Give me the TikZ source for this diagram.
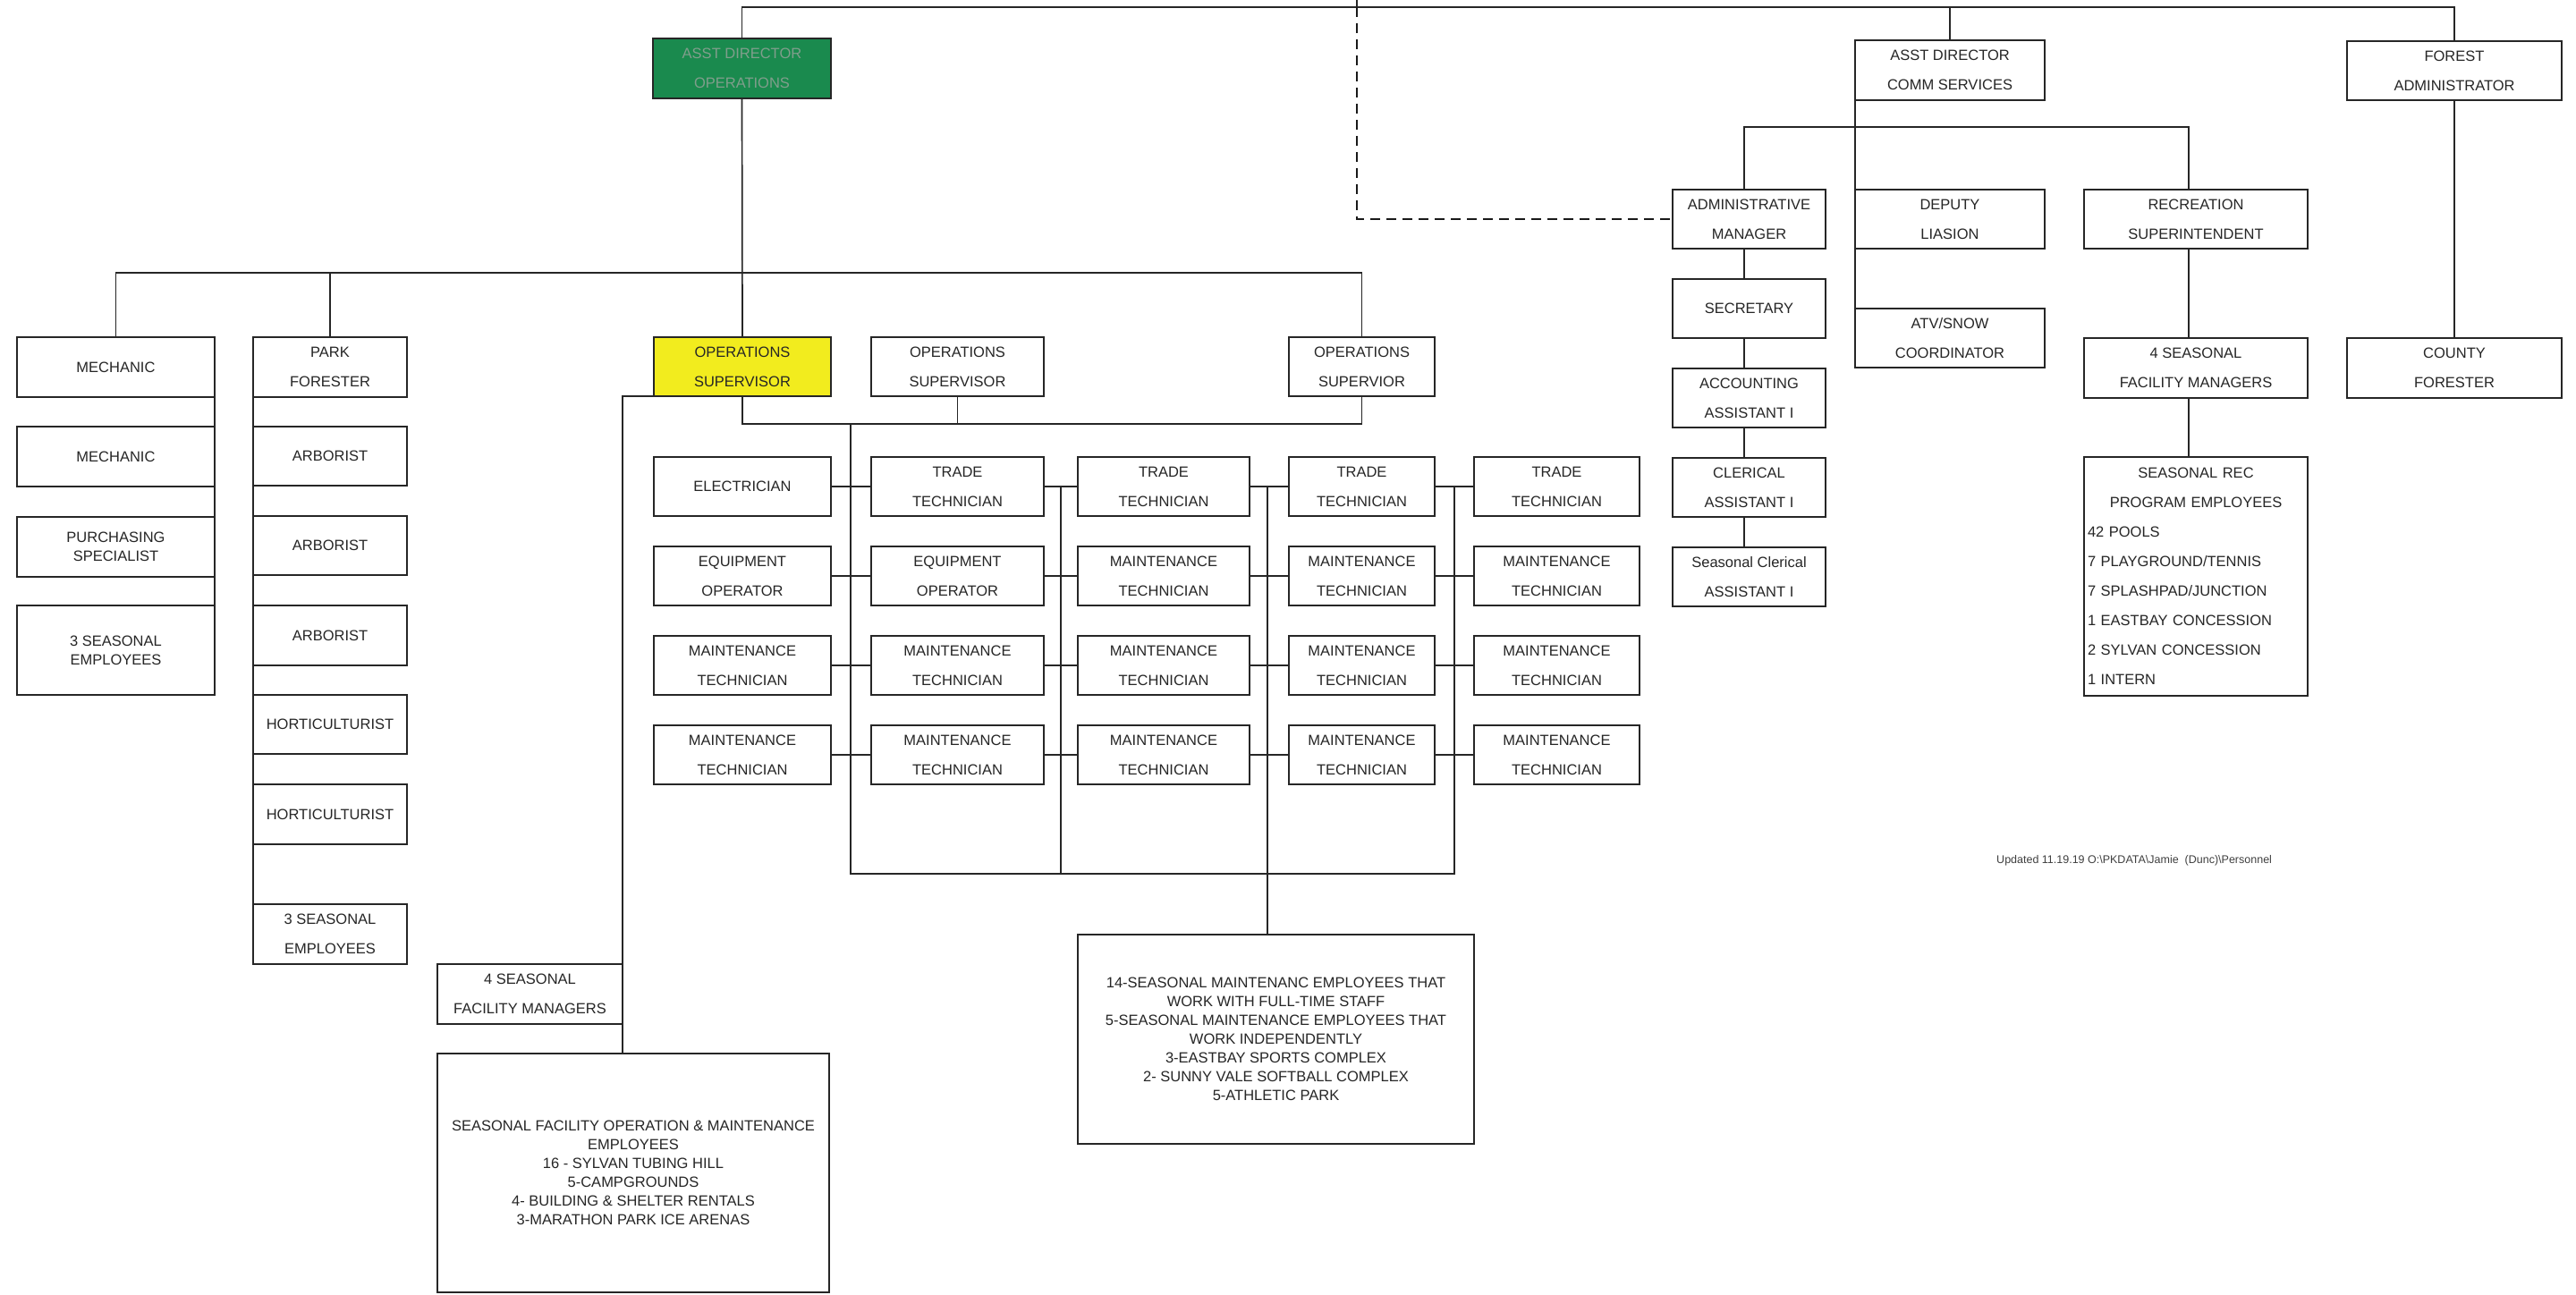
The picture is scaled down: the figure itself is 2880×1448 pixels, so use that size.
\documentclass[tikz,border=0pt]{standalone}
\usepackage{fontspec}
\setmainfont{Liberation Sans}
\definecolor{dirgreen}{RGB}{26,138,78}
\definecolor{dirtext}{RGB}{128,158,140}
\definecolor{opsyellow}{RGB}{242,236,30}
\newcommand{\orgbox}[7][]{\node[box,minimum width={#5-#3},minimum height={#6-#4},#1] (#2) at ({(#3+#5)/2},{(#4+#6)/2}) {#7};}
\tikzset{
  box/.style={draw=black!85, line width=1.7pt, fill=white, inner sep=0pt, outer sep=0pt, align=center,
    font=\fontsize{16.5}{33}\selectfont, text=black!85},
  tight/.style={font=\fontsize{16.5}{21}\selectfont},
  link/.style={draw=black!85, line width=1.7pt},
  dashlink/.style={draw=black!90, line width=2.4pt, dash pattern=on 11pt off 7pt}
}
\begin{document}
\begin{tikzpicture}[x=1pt,y=-1pt]
\fill[white] (0,0) rectangle (2880,1448);
\useasboundingbox (0,0) rectangle (2880,1448);

% top level
\orgbox[fill=dirgreen,text=dirtext]{green}{730}{43}{929}{110}{ASST DIRECTOR\\OPERATIONS}
\orgbox{adc}{2074}{45}{2286}{112}{ASST DIRECTOR\\COMM SERVICES}
\orgbox{fa}{2624}{46}{2864}{112}{FOREST\\ADMINISTRATOR}

% left columns
\orgbox{mech1}{19}{377}{240}{444}{MECHANIC}
\orgbox{mech2}{19}{477}{240}{544}{MECHANIC}
\orgbox[tight]{purch}{19}{578}{240}{645}{PURCHASING\\SPECIALIST}
\orgbox[tight]{seasA}{19}{677}{240}{777}{3 SEASONAL\\EMPLOYEES}

\orgbox{pf}{283}{377}{455}{444}{PARK\\FORESTER}
\orgbox{arb1}{283}{477}{455}{543}{ARBORIST}
\orgbox{arb2}{283}{577}{455}{643}{ARBORIST}
\orgbox{arb3}{283}{677}{455}{744}{ARBORIST}
\orgbox{hort1}{283}{777}{455}{843}{HORTICULTURIST}
\orgbox{hort2}{283}{877}{455}{944}{HORTICULTURIST}
\orgbox{seasB}{283}{1011}{455}{1078}{3 SEASONAL\\EMPLOYEES}

% supervisors
\orgbox[fill=opsyellow]{ops1}{731}{377}{929}{443}{OPERATIONS\\SUPERVISOR}
\orgbox{ops2}{974}{377}{1167}{443}{OPERATIONS\\SUPERVISOR}
\orgbox{ops3}{1441}{377}{1604}{443}{OPERATIONS\\SUPERVIOR}

% grid
\orgbox{g11}{731}{511}{929}{577}{ELECTRICIAN}
\orgbox{g12}{974}{511}{1167}{577}{TRADE\\TECHNICIAN}
\orgbox{g13}{1205}{511}{1397}{577}{TRADE\\TECHNICIAN}
\orgbox{g14}{1441}{511}{1604}{577}{TRADE\\TECHNICIAN}
\orgbox{g15}{1648}{511}{1833}{577}{TRADE\\TECHNICIAN}

\orgbox{g21}{731}{611}{929}{677}{EQUIPMENT\\OPERATOR}
\orgbox{g22}{974}{611}{1167}{677}{EQUIPMENT\\OPERATOR}
\orgbox{g23}{1205}{611}{1397}{677}{MAINTENANCE\\TECHNICIAN}
\orgbox{g24}{1441}{611}{1604}{677}{MAINTENANCE\\TECHNICIAN}
\orgbox{g25}{1648}{611}{1833}{677}{MAINTENANCE\\TECHNICIAN}

\orgbox{g31}{731}{711}{929}{777}{MAINTENANCE\\TECHNICIAN}
\orgbox{g32}{974}{711}{1167}{777}{MAINTENANCE\\TECHNICIAN}
\orgbox{g33}{1205}{711}{1397}{777}{MAINTENANCE\\TECHNICIAN}
\orgbox{g34}{1441}{711}{1604}{777}{MAINTENANCE\\TECHNICIAN}
\orgbox{g35}{1648}{711}{1833}{777}{MAINTENANCE\\TECHNICIAN}

\orgbox{g41}{731}{811}{929}{877}{MAINTENANCE\\TECHNICIAN}
\orgbox{g42}{974}{811}{1167}{877}{MAINTENANCE\\TECHNICIAN}
\orgbox{g43}{1205}{811}{1397}{877}{MAINTENANCE\\TECHNICIAN}
\orgbox{g44}{1441}{811}{1604}{877}{MAINTENANCE\\TECHNICIAN}
\orgbox{g45}{1648}{811}{1833}{877}{MAINTENANCE\\TECHNICIAN}

% bottom boxes
\orgbox{sfm}{489}{1078}{696}{1145}{4 SEASONAL\\FACILITY MANAGERS}
\orgbox[tight]{sfo}{489}{1178}{927}{1445}{SEASONAL FACILITY OPERATION \& MAINTENANCE\\EMPLOYEES\\16 - SYLVAN TUBING HILL\\5-CAMPGROUNDS\\4- BUILDING \& SHELTER RENTALS\\3-MARATHON PARK ICE ARENAS}
\orgbox[tight]{smb}{1205}{1045}{1648}{1279}{14-SEASONAL MAINTENANC EMPLOYEES THAT\\WORK WITH FULL-TIME STAFF\\5-SEASONAL MAINTENANCE EMPLOYEES THAT\\WORK INDEPENDENTLY\\3-EASTBAY SPORTS COMPLEX\\2- SUNNY VALE SOFTBALL COMPLEX\\5-ATHLETIC PARK}

% right side
\orgbox{am}{1870}{212}{2041}{278}{ADMINISTRATIVE\\MANAGER}
\orgbox{dep}{2074}{212}{2286}{278}{DEPUTY\\LIASION}
\orgbox{rec}{2330}{212}{2580}{278}{RECREATION\\SUPERINTENDENT}
\orgbox{sec}{1870}{312}{2041}{378}{SECRETARY}
\orgbox{atv}{2074}{345}{2286}{411}{ATV/SNOW\\COORDINATOR}
\orgbox{fmr}{2330}{378}{2580}{445}{4 SEASONAL\\FACILITY MANAGERS}
\orgbox{cf}{2624}{378}{2864}{445}{COUNTY\\FORESTER}
\orgbox{acc}{1870}{412}{2041}{478}{ACCOUNTING\\ASSISTANT I}
\orgbox{cler}{1870}{512}{2041}{578}{CLERICAL\\ASSISTANT I}
\orgbox{scl}{1870}{612}{2041}{678}{Seasonal Clerical\\ASSISTANT I}
\orgbox[align=left,inner xsep=4pt,text width=242pt]{recemp}{2330}{511}{2580}{778}{\makebox[242pt]{SEASONAL REC}\\\makebox[242pt]{PROGRAM EMPLOYEES}\\42 POOLS\\7 PLAYGROUND/TENNIS\\7 SPLASHPAD/JUNCTION\\1 EASTBAY CONCESSION\\2 SYLVAN CONCESSION\\1 INTERN}

\node[anchor=west, inner sep=0pt, font=\fontsize{12.5}{15}\selectfont, text=black!75] (upd) at (2232,962) {Updated 11.19.19 O:\textbackslash PKDATA\textbackslash Jamie\ \ (Dunc)\textbackslash Personnel};

% helper coordinates
\coordinate (ttop) at (1517,0);
\coordinate (dtop) at (1517,8);
\coordinate (bus) at (0,305);
\coordinate (sbus) at (0,474);
\coordinate (gbot) at (0,977);
\coordinate (v1) at (951,0);
\coordinate (v2) at (1186,0);
\coordinate (v3) at (1417,0);
\coordinate (v4) at (1626,0);
\coordinate (lx) at (696,0);
\coordinate (rbus) at (0,142);
\coordinate (amx) at (1950,0);
\coordinate (recx) at (2447,0);

% top connectors
\draw[link] (green.north) -- (green.north |- dtop) -- (fa.north |- dtop) -- (fa.north);
\draw[link] (adc.north |- dtop) -- (adc.north);
\draw[link] (ttop) -- (dtop);
\draw[dashlink] (dtop) |- (am.west);

% operations branch
\draw[link] (green.south) -- (ops1.north);
\draw[link] (mech1.north) -- (mech1.north |- bus) -- (ops3.north |- bus) -- (ops3.north);
\draw[link] (pf.north) -- (pf.north |- bus);
\draw[link] (mech1.south east) -- (seasA.north east);
\draw[link] (pf.south west) -- (seasB.north west);

\draw[link] (ops1.south) -- (ops1.south |- sbus) -- (ops3.south |- sbus) -- (ops3.south);
\draw[link] (ops2.south) -- (ops2.south |- sbus);
\draw[link] (ops1.south west) -- (lx |- ops1.south) -- (lx |- sfo.north);

\draw[link] (v1 |- sbus) -- (v1 |- gbot) -- (v4 |- gbot) -- (v4 |- g15.west);
\draw[link] (v2 |- g13.west) -- (v2 |- gbot);
\draw[link] (v3 |- g14.west) -- (v3 |- smb.north);
\foreach \r in {1,2,3,4}{
  \draw[link] (g\r1.east) -- (g\r2.west);
  \draw[link] (g\r2.east) -- (g\r3.west);
  \draw[link] (g\r3.east) -- (g\r4.west);
  \draw[link] (g\r4.east) -- (g\r5.west);
}

% community services branch
\draw[link] (amx |- am.north) -- (amx |- rbus) -- (recx |- rbus) -- (recx |- rec.north);
\draw[link] (adc.south west) -- (atv.north west);
\draw[link] (amx |- am.south) -- (amx |- sec.north);
\draw[link] (amx |- sec.south) -- (amx |- acc.north);
\draw[link] (amx |- acc.south) -- (amx |- cler.north);
\draw[link] (amx |- cler.south) -- (amx |- scl.north);
\draw[link] (recx |- rec.south) -- (recx |- fmr.north);
\draw[link] (recx |- fmr.south) -- (recx |- recemp.north);
\draw[link] (fa.south) -- (cf.north);
\end{tikzpicture}
\end{document}
